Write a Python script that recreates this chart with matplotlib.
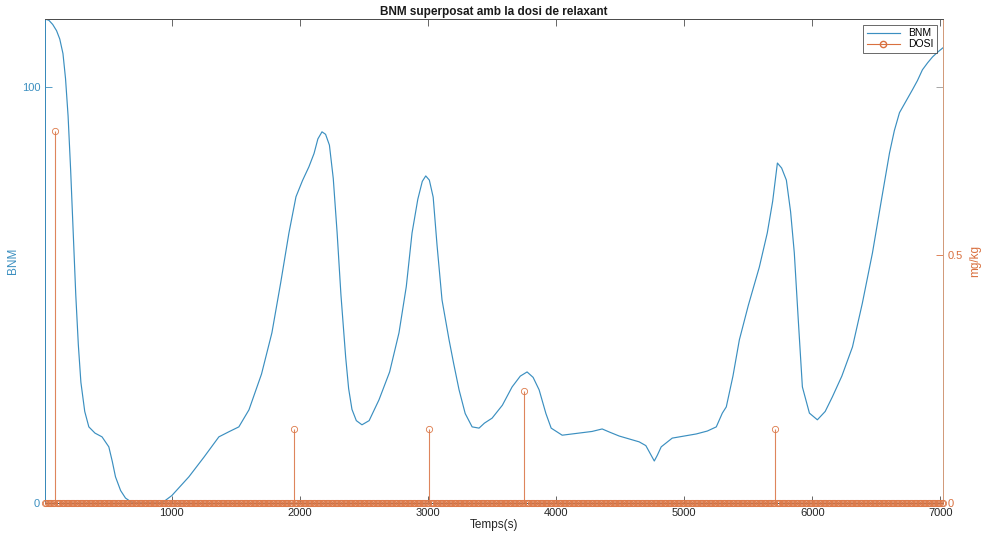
import numpy as np
import matplotlib
matplotlib.use("Agg")
import matplotlib.pyplot as plt
from matplotlib.lines import Line2D
from matplotlib.ticker import FixedLocator

plt.rcParams['font.family'] = ['Liberation Sans', 'DejaVu Sans']

# BNM trace (time in s, index value)
bnm_t = [10, 40, 70, 100, 125, 150, 170, 190, 210, 230, 250, 270, 290, 320, 352,
         400, 455, 508, 535, 560, 600, 638, 680, 716, 800, 922, 1000, 1133, 1250,
         1367, 1450, 1523, 1602, 1700, 1781, 1850, 1914, 1969, 2020, 2070, 2110,
         2140, 2172, 2200, 2230, 2260, 2290, 2320, 2357, 2380, 2406, 2440, 2484,
         2540, 2617, 2700, 2773, 2830, 2875, 2920, 2955, 2982, 3010, 3040, 3070,
         3109, 3164, 3200, 3242, 3290, 3344, 3398, 3440, 3500, 3580, 3656, 3720,
         3773, 3820, 3867, 3920, 3961, 4047, 4180, 4280, 4359, 4420, 4492, 4560,
         4648, 4700, 4727, 4766, 4790, 4820, 4906, 5000, 5094, 5180, 5250, 5297,
         5328, 5380, 5430, 5500, 5586, 5648, 5690, 5727, 5760, 5797, 5830, 5859,
         5890, 5922, 5977, 6039, 6100, 6156, 6230, 6313, 6390, 6469, 6540, 6602,
         6640, 6680, 6730, 6781, 6820, 6859, 6900, 6938, 6980, 7020]
bnm_v = [116.3, 116.0, 115.0, 113.5, 111.5, 108.0, 102.0, 93.0, 80.0, 65.0, 50.0,
         38.0, 29.0, 22.0, 18.3, 16.8, 15.9, 13.5, 10.0, 6.3, 3.0, 1.2, 0.3, 0.0,
         0.0, 0.0, 1.8, 6.3, 11.0, 15.9, 17.2, 18.3, 22.4, 31.0, 40.9, 53.0, 64.9,
         73.6, 77.5, 80.8, 84.0, 87.5, 89.2, 88.6, 86.0, 78.0, 65.0, 50.0, 35.0,
         27.5, 22.5, 19.8, 18.8, 19.8, 24.8, 31.5, 40.9, 52.0, 64.9, 73.0, 77.3,
         78.6, 77.6, 73.5, 62.0, 48.8, 39.2, 33.5, 27.2, 21.5, 18.3, 18.0, 19.2,
         20.4, 23.5, 27.9, 30.5, 31.5, 30.2, 27.2, 21.5, 18.0, 16.3, 16.8, 17.2,
         17.8, 17.0, 16.1, 15.5, 14.7, 13.8, 12.3, 10.1, 11.5, 13.5, 15.6, 16.1,
         16.6, 17.3, 18.3, 21.6, 23.1, 30.5, 39.2, 47.5, 56.7, 64.9, 72.5, 81.7,
         80.5, 77.6, 70.0, 60.1, 44.0, 27.9, 21.6, 20.0, 22.0, 25.5, 30.5, 37.5,
         48.0, 60.1, 73.0, 84.1, 89.5, 93.8, 96.5, 99.3, 101.5, 104.1, 105.8,
         107.2, 108.4, 109.4]

# relaxant doses (mg/kg) given on the 10 s sampling grid
sample_t = np.arange(10, 7030, 10)
dose_t = [90, 1950, 3010, 3750, 5710]
dose_v = [0.75, 0.15, 0.15, 0.225, 0.15]

dosi = np.zeros(len(sample_t))
for t, v in zip(dose_t, dose_v):
    dosi[np.searchsorted(sample_t, t)] = v

c_bnm = '#3b8fc0'
c_dose = '#d9703f'
c_axis = '#4d4d4d'

fig = plt.figure(figsize=(9.81, 5.38), dpi=100)
ax = fig.add_axes([0.0459, 0.065, 0.9154, 0.8996])
ax2 = ax.twinx()

ax.plot(bnm_t, bnm_v, color=c_bnm, lw=0.85, label='BNM')
ax.set_xlim(10, 7020)
ax.set_ylim(0, 116.3)
ax.set_yticks([0, 100])
ax.set_xticks(range(1000, 8000, 1000))
ax.set_ylabel('BNM', color=c_bnm, fontsize=8.5, labelpad=2)
ax.set_xlabel('Temps(s)', color='#262626', fontsize=8.5, labelpad=1)
ax.set_title('BNM superposat amb la dosi de relaxant', fontsize=8.5,
             fontweight='bold', color='#1a1a1a', pad=3)

nz = dosi > 0
ax2.vlines(sample_t[nz], 0, dosi[nz], color=c_dose, lw=0.8, alpha=0.85)
ax2.plot(sample_t, dosi, 'o', ms=4.5, mfc='none', mec='#dd7a4a', mew=0.6,
         clip_on=False, zorder=5)
ax2.set_ylim(0, 0.975)
ax2.set_yticks([0, 0.5])
ax2.set_yticklabels(['0', '0.5'])
ax2.set_ylabel('mg/kg', color=c_dose, fontsize=8.5, labelpad=4)
# left-axis tick mirrored on the right side
ax2.yaxis.set_minor_locator(FixedLocator([100 / 116.3 * 0.975]))

for a in (ax, ax2):
    a.tick_params(direction='in', length=5, labelsize=8, width=0.6)
    for s in a.spines.values():
        s.set_linewidth(0.7)
ax.tick_params(axis='x', top=True, colors=c_axis, labelcolor='#262626')
ax.tick_params(axis='y', colors=c_bnm)
ax2.tick_params(axis='y', colors=c_dose)
ax2.tick_params(axis='y', which='minor', length=5, width=0.6, color='#999999', direction='in')
ax.spines['top'].set_color(c_axis)
ax.spines['bottom'].set_color(c_axis)
ax2.spines['top'].set_color(c_axis)
ax2.spines['bottom'].set_color(c_axis)
ax2.spines['left'].set_color(c_bnm)
ax2.spines['right'].set_color('#d9a07f')

h1 = ax.get_lines()[0]
h2 = Line2D([0, 1], [0, 0], color=c_dose, lw=0.8, marker='o', mfc='none',
            mec=c_dose, ms=4.5, markevery=[1])
leg = ax2.legend([h1, h2], ['BNM', 'DOSI'], loc='upper right', fontsize=7.5,
                 frameon=True, fancybox=False, edgecolor='#262626',
                 borderpad=0.3, handlelength=3.2, labelspacing=0.1,
                 borderaxespad=0.6)
leg.get_frame().set_linewidth(0.6)

fig.savefig('out.png', dpi=100)
